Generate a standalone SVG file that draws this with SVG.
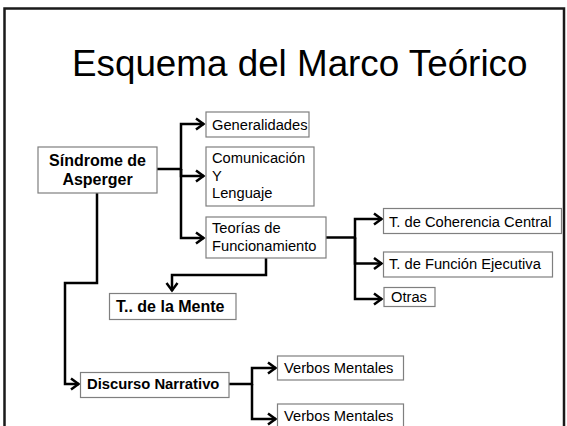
<svg xmlns="http://www.w3.org/2000/svg" width="567" height="426" viewBox="0 0 567 426">
<style>
.box{fill:#fff;stroke:#7f7f7f;stroke-width:1.2}
.t{font-family:"Liberation Sans",Arial,sans-serif;font-size:14.7px;fill:#000}
.b{font-family:"Liberation Sans",Arial,sans-serif;font-weight:bold;font-size:16px;fill:#000}
.c{fill:none;stroke:#000;stroke-width:2.5;stroke-linejoin:miter}
</style>
<defs>
<marker id="ar" markerUnits="userSpaceOnUse" markerWidth="12" markerHeight="14" viewBox="0 0 12 14" refX="10" refY="7" orient="auto">
<path d="M2,1.5 L9.5,7 L2,12.5" fill="none" stroke="#000" stroke-width="2.5"/>
</marker>
</defs>
<rect x="0" y="0" width="567" height="426" fill="#fff"/>
<rect x="4.5" y="8.5" width="559.5" height="440" fill="none" stroke="#1a1a1a" stroke-width="2.5"/>
<text x="72" y="76" font-family="'Liberation Sans',Arial,sans-serif" font-size="36.8">Esquema del Marco Teórico</text>

<g id="connectors">
<path class="c" d="M157,169 H181 V124 H204" marker-end="url(#ar)"/>
<path class="c" d="M181,169 V176 H204" marker-end="url(#ar)"/>
<path class="c" d="M181,169 V238 H204" marker-end="url(#ar)"/>
<path class="c" d="M266,258 V275 H172 V291" marker-end="url(#ar)"/>
<path class="c" d="M326,237.5 H355 V219 H382" marker-end="url(#ar)"/>
<path class="c" d="M355,237.5 V263.5 H382" marker-end="url(#ar)"/>
<path class="c" d="M355,237.5 V299 H382" marker-end="url(#ar)"/>
<path class="c" d="M97,193 V283 H65 V384 H79" marker-end="url(#ar)"/>
<path class="c" d="M229,384 H252 V368 H276" marker-end="url(#ar)"/>
<path class="c" d="M252,384 V419 H276" marker-end="url(#ar)"/>
</g>

<g id="sindrome">
<rect class="box" x="38" y="147" width="119" height="46"/>
<text class="b" x="97.5" y="166" text-anchor="middle">Síndrome de</text>
<text class="b" x="97.5" y="185" text-anchor="middle">Asperger</text>
</g>
<g id="generalidades">
<rect class="box" x="206" y="112" width="103" height="25"/>
<text class="t" x="212" y="130">Generalidades</text>
</g>
<g id="comunicacion">
<rect class="box" x="206" y="147" width="108" height="59"/>
<text class="t" x="212" y="163.3">Comunicación</text>
<text class="t" x="212" y="181">Y</text>
<text class="t" x="212" y="198.3">Lenguaje</text>
</g>
<g id="teorias">
<rect class="box" x="206" y="217" width="120" height="41"/>
<text class="t" x="212" y="233.3">Teorías de</text>
<text class="t" x="212" y="250.7">Funcionamiento</text>
</g>
<g id="mente">
<rect class="box" x="109.5" y="293.5" width="126.5" height="26"/>
<text class="b" x="116" y="312">T.. de la Mente</text>
</g>
<g id="coherencia">
<rect class="box" x="383.5" y="208.5" width="178" height="25"/>
<text class="t" x="389" y="226.7">T. de Coherencia Central</text>
</g>
<g id="funcion">
<rect class="box" x="383.5" y="252" width="169" height="25"/>
<text class="t" x="389" y="268.5">T. de Función Ejecutiva</text>
</g>
<g id="otras">
<rect class="box" x="384" y="287.5" width="51" height="19"/>
<text class="t" x="391" y="302.3">Otras</text>
</g>
<g id="discurso">
<rect class="box" x="80.5" y="372.5" width="148.5" height="25"/>
<text class="b" x="87" y="389.3" style="font-size:14.8px">Discurso Narrativo</text>
</g>
<g id="verbos1">
<rect class="box" x="277.5" y="356" width="126" height="24"/>
<text class="t" x="284" y="373.3">Verbos Mentales</text>
</g>
<g id="verbos2">
<rect class="box" x="277.5" y="404" width="126" height="24"/>
<text class="t" x="284" y="421.3">Verbos Mentales</text>
</g>
</svg>
